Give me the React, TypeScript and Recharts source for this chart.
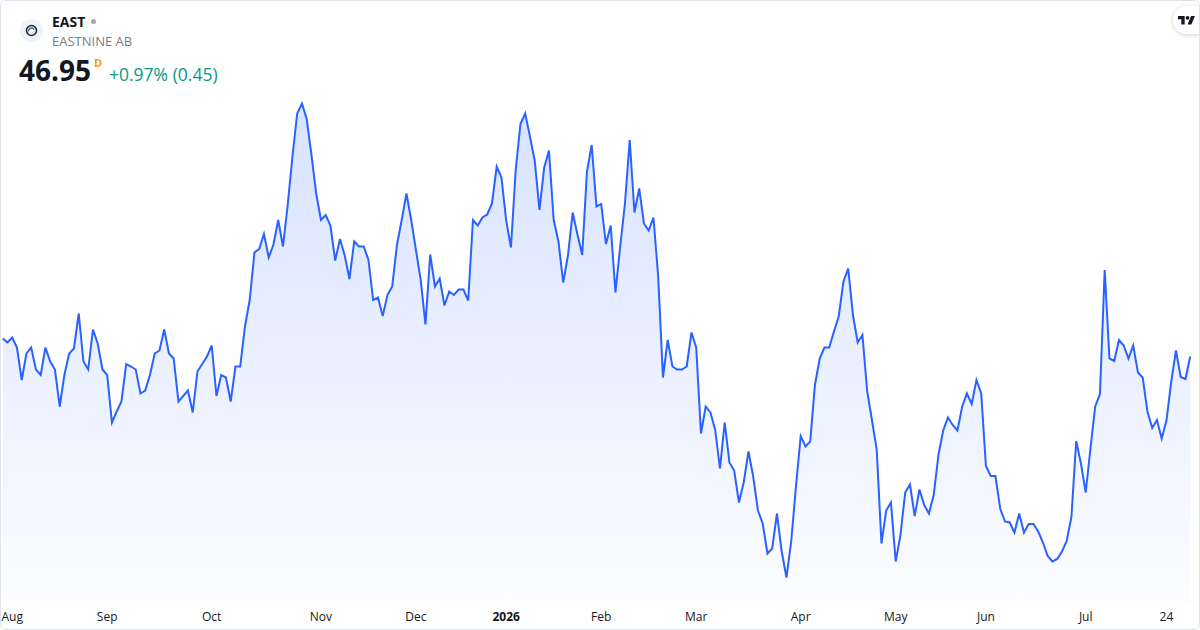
import React from 'react';
import { AreaChart, Area, XAxis, YAxis } from 'recharts';

// daily closes, EAST (Eastnine AB)
const closes = [
  47.31, 47.23, 47.33, 47.13, 46.48, 47.01, 47.13, 46.69, 46.58, 47.13,
  46.85, 46.69, 45.95, 46.59, 47.01, 47.11, 47.81, 46.85, 46.69, 47.49,
  47.21, 46.69, 46.58, 45.63, 45.85, 46.05, 46.8, 46.75, 46.69, 46.21,
  46.27, 46.58, 47.01, 47.07, 47.49, 47.01, 46.91, 46.05, 46.16, 46.27,
  45.83, 46.65, 46.8, 46.95, 47.17, 46.16, 46.58, 46.53, 46.05, 46.75,
  46.75, 47.55, 48.08, 49.03, 49.1, 49.4, 48.93, 49.19, 49.68, 49.15,
  49.98, 50.95, 51.81, 52.01, 51.7, 50.98, 50.21, 49.68, 49.78, 49.57,
  48.87, 49.3, 48.97, 48.5, 49.25, 49.15, 49.15, 48.88, 48.08, 48.13,
  47.76, 48.18, 48.35, 49.18, 49.68, 50.21, 49.68, 49.08, 48.48, 47.59,
  48.99, 48.35, 48.51, 47.97, 48.25, 48.18, 48.29, 48.29, 48.07, 49.68,
  49.57, 49.73, 49.79, 50.01, 50.75, 50.53, 49.67, 49.13, 50.68, 51.6,
  51.81, 51.35, 50.87, 49.88, 50.73, 51.07, 49.68, 49.25, 48.43, 48.97,
  49.83, 49.39, 48.98, 50.65, 51.18, 49.95, 50.0, 49.2, 49.57, 48.23,
  49.15, 50.01, 51.28, 49.83, 50.31, 49.61, 49.47, 49.73, 48.55, 46.53,
  47.28, 46.75, 46.69, 46.69, 46.75, 47.43, 47.13, 45.41, 45.95, 45.83,
  45.48, 44.71, 45.63, 44.83, 44.67, 44.03, 44.43, 45.05, 44.55, 43.87,
  43.61, 43.01, 43.11, 43.81, 43.05, 42.53, 43.25, 44.35, 45.36, 45.15,
  45.25, 46.38, 46.91, 47.13, 47.13, 47.45, 47.75, 48.45, 48.71, 47.78,
  47.23, 47.38, 46.25, 45.68, 45.09, 43.21, 43.87, 44.03, 42.85, 43.38,
  44.23, 44.39, 43.76, 44.29, 43.98, 43.81, 44.18, 44.98, 45.47, 45.73,
  45.58, 45.47, 45.95, 46.21, 46.0, 46.48, 46.21, 44.76, 44.56, 44.56,
  43.91, 43.65, 43.63, 43.43, 43.81, 43.43, 43.6, 43.6, 43.45, 43.23,
  42.96, 42.85, 42.9, 43.05, 43.26, 43.75, 45.26, 44.81, 44.23, 45.11,
  45.95, 46.2, 48.68, 46.91, 46.86, 47.28, 47.17, 46.91, 47.17, 46.63,
  46.53, 45.85, 45.52, 45.68, 45.31, 45.67, 46.44, 47.07, 46.54, 46.5,
  46.95,
];

// trading-day index where each time-axis label sits
const tickDays = [2, 22, 44, 67, 87, 106, 126, 146, 168, 188, 207, 228, 245];
const tickLabels = ['Aug', 'Sep', 'Oct', 'Nov', 'Dec', '2026', 'Feb', 'Mar', 'Apr', 'May', 'Jun', 'Jul', '24'];

const priceRange: [number, number] = [42.02, 54.08];

const symbol = 'EAST';
const company = 'EASTNINE AB';
const lastPrice = '46.95';
const change = '+0.97% (0.45)';

const data = closes.map((c, i) => ({ day: i, close: c }));

const font = '"Open Sans", sans-serif';

const MonthTick = (props: any) => {
  const { x, y, payload } = props;
  const label = tickLabels[tickDays.indexOf(payload.value)];
  return (
    <text x={x} y={y + 10} textAnchor="middle" fontSize={12} fontFamily={font}
      fill="#131722" fontWeight={label === '2026' ? 700 : 400}>
      {label}
    </text>
  );
};

const abs = (left: number, top: number, extra: React.CSSProperties = {}): React.CSSProperties => ({
  position: 'absolute', left, top, whiteSpace: 'nowrap', ...extra,
});

export default function App() {
  return (
    <div style={{ position: 'absolute', left: 0, top: 0, width: 1200, height: 630, background: '#fff',
      border: '1px solid #e0e3eb', borderRadius: 6, boxSizing: 'border-box', overflow: 'hidden', fontFamily: font }}>
      <style>{'body{margin:0}'}</style>
      <div style={{ position: 'absolute', left: -1, top: -1 }}>
        <AreaChart width={1200} height={630} data={data} margin={{ top: 0, right: 9.8, left: 2.7, bottom: 0 }}>
          <defs>
            <linearGradient id="eastFill" gradientUnits="userSpaceOnUse" x1="0" y1="0" x2="0" y2="603">
              <stop offset="0" stopColor="#2962ff" stopOpacity={0.36} />
              <stop offset="1" stopColor="#2962ff" stopOpacity={0.025} />
            </linearGradient>
          </defs>
          <XAxis dataKey="day" type="number" domain={[0, closes.length - 1]} ticks={tickDays} interval={0}
            axisLine={false} tickLine={false} height={27} tick={<MonthTick />} />
          <YAxis hide domain={priceRange} allowDataOverflow />
          <Area type="linear" dataKey="close" stroke="#2962ff" strokeWidth={2} fill="url(#eastFill)"
            dot={false} activeDot={false} isAnimationActive={false} />
        </AreaChart>
      </div>

      {/* symbol header */}
      <div style={abs(19, 18, { width: 23, height: 23, borderRadius: '50%', background: '#eff2f8' })}>
        <svg width={23} height={23} viewBox="0 0 23 23">
          <circle cx={11.5} cy={11.5} r={5} fill="none" stroke="#1f2b38" strokeWidth={1.6} />
          <path d="M8.6 12.4 A3 3 0 0 1 14.2 10.6" fill="none" stroke="#2a6f7a" strokeWidth={1.3} />
        </svg>
      </div>
      <div style={abs(51, 13.6, { fontSize: 14, lineHeight: '14px', fontWeight: 700, color: '#131722' })}>{symbol}</div>
      <div style={abs(89.5, 18.2, { width: 5, height: 5, borderRadius: '50%', background: '#a3a6af' })} />
      <div style={abs(51, 33.5, { fontSize: 13, lineHeight: '13px', color: '#787b86' })}>{company}</div>
      <div style={abs(18, 55.1, { fontSize: 28, lineHeight: '28px', fontWeight: 700, color: '#131722' })}>{lastPrice}</div>
      <div style={abs(93, 55.5, { fontSize: 11, lineHeight: '11px', fontWeight: 700, color: '#ff9800' })}>D</div>
      <div style={abs(108, 64.5, { fontSize: 17.5, lineHeight: '17.5px', color: '#089981' })}>{change}</div>

      {/* TradingView badge */}
      <div style={abs(1171.5, 5, { width: 44, height: 28, borderRadius: 14, background: '#fff',
        boxShadow: '0 1px 5px rgba(0,0,0,0.18)' })}>
        <svg style={{ position: 'absolute', left: 5.5, top: 8 }} width={17.2} height={13.4} viewBox="0 0 36 28">
          <path d="M14 22H7V11H0V4h14v18zM28 22h-8l7.5-18h8L28 22z" fill="#131722" />
          <circle cx={20} cy={8} r={4} fill="#131722" />
        </svg>
      </div>
    </div>
  );
}
